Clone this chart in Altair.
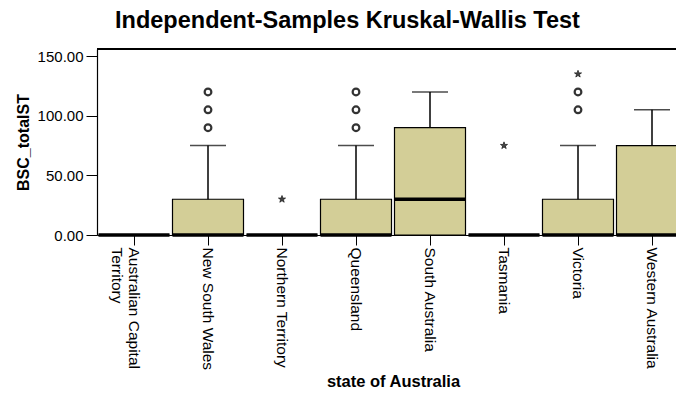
import altair as alt
import pandas as pd

states = ["Australian Capital Territory", "New South Wales", "Northern Territory",
          "Queensland", "South Australia", "Tasmania", "Victoria", "Western Australia"]
q1 = [0, 0, 0, 0, 0, 0, 0, 0]
median = [0, 0, 0, 0, 30, 0, 0, 0]
q3 = [0, 30, 0, 30, 90, 0, 30, 75]
whisker_low = [0, 0, 0, 0, 0, 0, 0, 0]
whisker_high = [0, 75, 0, 75, 120, 0, 75, 105]

outlier_states = ["New South Wales"] * 3 + ["Queensland"] * 3 + ["Victoria"] * 2
outlier_values = [90, 105, 120, 90, 105, 120, 105, 120]

extreme_states = ["Northern Territory", "Tasmania", "Victoria"]
extreme_values = [30, 75, 135]

y_ticks = [0, 50, 100, 150]

FONT = "Liberation Sans"
BOX_FILL = "#D3CE97"
PLOT_W = 579
PLOT_H = 186

box_df = pd.DataFrame({"state": states, "q1": q1, "median": median, "q3": q3,
                       "lo": whisker_low, "hi": whisker_high})
box_df["has_whisker"] = box_df["hi"] > box_df["q3"]
out_df = pd.DataFrame({"state": outlier_states, "value": outlier_values})
ext_df = pd.DataFrame({"state": extreme_states, "value": extreme_values})

x_scale = alt.Scale(range=[0, 592], paddingInner=0, paddingOuter=0)
x_enc = alt.X("state:N", sort=states, title="state of Australia", scale=x_scale,
              axis=alt.Axis(labelAngle=90, labelAlign="left", labelBaseline="middle",
                            labelFontSize=15.5, labelFont=FONT, labelColor="#000",
                            tickSize=10, tickColor="#000", domainColor="#000",
                            domainWidth=1.2,
                            labelPadding=2, titleFontSize=16.5, titleFont=FONT,
                            titleFontWeight="bold", titleColor="#000", titlePadding=4,
                            labelLimit=300, labelOverlap=False,
                            labelExpr="datum.label == 'Australian Capital Territory' ? ['Australian Capital', 'Territory'] : datum.label"))
y_scale = alt.Scale(domain=[0, 156], nice=False, zero=True)
y_axis = alt.Axis(values=y_ticks, format=".2f", grid=False, tickSize=11,
                  tickColor="#000", domainColor="#000", domainWidth=1.2,
                  labelFontSize=15,
                  labelFont=FONT, labelColor="#000", labelPadding=3,
                  titleFontSize=16, titleFont=FONT, titleFontWeight="bold",
                  titleColor="#000", titlePadding=6)

base = alt.Chart(box_df)
xs = alt.X("state:N", sort=states)

boxes = base.mark_bar(size=71, fill=BOX_FILL, stroke="#000", strokeWidth=1.2).encode(
    x=x_enc,
    y=alt.Y("q1:Q", scale=y_scale, axis=y_axis, title="BSC_totalST"),
    y2="q3:Q",
)
whiskers = base.transform_filter("datum.has_whisker").mark_rule(color="#000", strokeWidth=1.5).encode(
    x=xs, y="q3:Q", y2="hi:Q")
caps = base.transform_filter("datum.has_whisker").mark_tick(size=36, thickness=1.5, color="#000").encode(
    x=xs, y="hi:Q")
medians = base.mark_tick(size=71, thickness=3.5, color="#000", opacity=1).encode(
    x=xs, y="median:Q")

outliers = alt.Chart(out_df).mark_point(shape="circle", filled=False, stroke="#333",
                                        strokeWidth=2.2, size=45, opacity=1).encode(
    x=xs, y="value:Q")

star = ("M0,-1L0.2245,-0.309L0.951,-0.309L0.363,0.118L0.588,0.809L0,0.382"
        "L-0.588,0.809L-0.363,0.118L-0.951,-0.309L-0.2245,-0.309Z")
extremes = alt.Chart(ext_df).mark_point(shape=star, filled=True, fill="#444",
                                        stroke="#222", strokeWidth=0.8, size=55, opacity=1).encode(
    x=xs, y="value:Q")

# top frame line of the plot area
top_border = alt.Chart(box_df).mark_rule(color="#000", strokeWidth=1.2).encode(
    x=alt.value(0), x2=alt.value(PLOT_W), y=alt.value(0))

chart = alt.layer(boxes, whiskers, caps, medians, outliers, extremes, top_border).properties(
    width=PLOT_W, height=PLOT_H,
    autosize=alt.AutoSizeParams(type="none"),
    padding={"left": 89, "top": 41, "right": 0, "bottom": 157},
    title=alt.TitleParams("Independent-Samples Kruskal-Wallis Test", font=FONT,
                          fontSize=23.5, fontWeight="bold", color="#000",
                          anchor="middle", dx=-39, offset=16),
).configure_view(stroke=None, fill="#EAEAEA"
).configure(background="#FFFFFF")

chart.save("out.html", embed_options={"renderer": "svg", "actions": False})
